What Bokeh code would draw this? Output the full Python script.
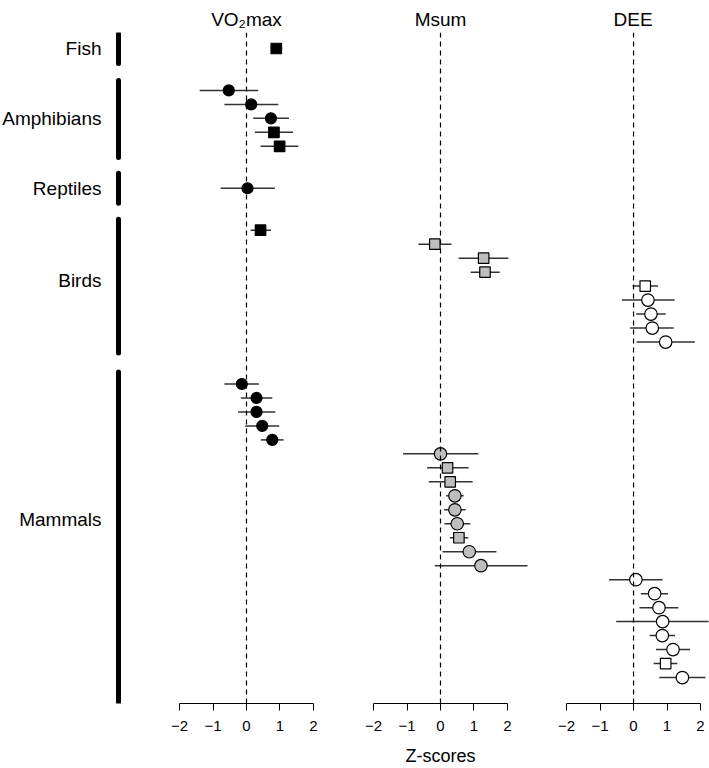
from bokeh.plotting import figure
from bokeh.layouts import row
from bokeh.models import Range1d, Span, FixedTicker, ColumnDataSource
from bokeh.embed import file_html
from bokeh.resources import INLINE
from bokeh.core.properties import value

# ---------------- data ----------------
groups = ["Fish", "Amphibians", "Reptiles", "Birds", "Mammals"]
panel_titles = ["VO\u2082max", "Msum", "DEE"]
tick_values = [-2, -1, 0, 1, 2]
tick_labels = ["\u22122", "\u22121", "0", "1", "2"]
x_label = "Z-scores"

vo2_group = ["Fish",
             "Amphibians", "Amphibians", "Amphibians", "Amphibians", "Amphibians",
             "Reptiles",
             "Birds",
             "Mammals", "Mammals", "Mammals", "Mammals", "Mammals"]
vo2_est = [0.89, -0.53, 0.14, 0.73, 0.82, 0.99, 0.03, 0.42, -0.14, 0.30, 0.30, 0.47, 0.77]
vo2_lo = [0.75, -1.40, -0.66, 0.20, 0.25, 0.42, -0.77, 0.12, -0.66, -0.17, -0.25, -0.04, 0.43]
vo2_hi = [1.07, 0.35, 0.95, 1.27, 1.39, 1.55, 0.85, 0.73, 0.37, 0.77, 0.86, 0.98, 1.11]
vo2_shape = ["square", "circle", "circle", "circle", "square", "square", "circle",
             "square", "circle", "circle", "circle", "circle", "circle"]

msum_group = ["Birds", "Birds", "Birds",
              "Mammals", "Mammals", "Mammals", "Mammals", "Mammals", "Mammals",
              "Mammals", "Mammals", "Mammals"]
msum_est = [-0.17, 1.29, 1.33, 0.00, 0.21, 0.29, 0.43, 0.43, 0.50, 0.55, 0.86, 1.21]
msum_lo = [-0.66, 0.54, 0.90, -1.12, -0.40, -0.35, 0.17, 0.11, 0.12, 0.28, 0.06, -0.17]
msum_hi = [0.33, 2.03, 1.77, 1.13, 0.84, 0.96, 0.69, 0.75, 0.89, 0.83, 1.67, 2.60]
msum_shape = ["square", "square", "square", "circle", "square", "square", "circle",
              "circle", "circle", "square", "circle", "circle"]

dee_group = ["Birds", "Birds", "Birds", "Birds", "Birds",
             "Mammals", "Mammals", "Mammals", "Mammals", "Mammals", "Mammals",
             "Mammals", "Mammals"]
dee_est = [0.35, 0.43, 0.52, 0.56, 0.96, 0.07, 0.63, 0.76, 0.87, 0.86, 1.18, 0.96, 1.46]
dee_lo = [-0.03, -0.35, 0.08, -0.10, 0.09, -0.73, 0.22, 0.18, -0.52, 0.48, 0.67, 0.60, 0.77]
dee_hi = [0.73, 1.23, 0.96, 1.20, 1.83, 0.87, 1.03, 1.34, 2.24, 1.24, 1.69, 1.31, 2.15]
dee_shape = ["square", "circle", "circle", "circle", "circle", "circle", "circle",
             "circle", "circle", "circle", "circle", "square", "circle"]

# ---------------- row assignment ----------------
panel_groups = [vo2_group, msum_group, dee_group]
panel_rows = [[None] * len(g) for g in panel_groups]
group_first, group_last = [], []
r = 1
for gi, g in enumerate(groups):
    if gi > 0:
        r += 2
    first = r
    for pi, pg in enumerate(panel_groups):
        for i, gg in enumerate(pg):
            if gg == g:
                panel_rows[pi][i] = r
                r += 1
    group_first.append(first)
    group_last.append(r - 1)
nrows = r - 1

FONT = "Liberation Sans"
H = 768
TOP, BOTTOM = 32, 64
y_range = Range1d(start=nrows + 1.857, end=-0.143)

# ---------------- label column ----------------
LW = 149
p0 = figure(width=LW, height=H, x_range=Range1d(0, LW), y_range=y_range,
            output_backend="svg", toolbar_location=None,
            x_axis_location=None, y_axis_location=None,
            min_border_left=0, min_border_right=0,
            min_border_top=TOP, min_border_bottom=BOTTOM)
p0.outline_line_color = None
p0.grid.visible = False

pad_top = [1.07, 0.71, 1.07, 0.79, 0.86]
pad_bot = [1.07, 0.79, 1.07, 0.79, 1.8]
label_shift = [0.0, 0.0, 0.0, -0.4, -0.8]
bar_src = ColumnDataSource(dict(
    x=[118] * len(groups),
    y0=[f - a for f, a in zip(group_first, pad_top)],
    y1=[l + b for l, b in zip(group_last, pad_bot)],
))
p0.segment(x0="x", y0="y0", x1="x", y1="y1", source=bar_src,
           line_color="black", line_width=5, line_cap="round")
lab_src = ColumnDataSource(dict(
    x=[101] * len(groups),
    y=[(f + l) / 2 + s for f, l, s in zip(group_first, group_last, label_shift)],
    text=groups,
))
p0.text(x="x", y="y", text="text", source=lab_src, text_align="right",
        text_baseline="middle", text_font=value(FONT), text_font_size="19px",
        text_color="black")

# ---------------- panels ----------------
panel_est = [vo2_est, msum_est, dee_est]
panel_lo = [vo2_lo, msum_lo, dee_lo]
panel_hi = [vo2_hi, msum_hi, dee_hi]
panel_shape = [vo2_shape, msum_shape, dee_shape]
fills = ["black", "#bebebe", "white"]
widths = [194, 194, 172]
xranges = [(-2.9, 2.9), (-2.9, 2.9), (-2.87, 2.27)]

figs = [p0]
for pi in range(3):
    p = figure(width=widths[pi], height=H, x_range=Range1d(*xranges[pi]),
               y_range=y_range, output_backend="svg", toolbar_location=None,
               y_axis_location=None,
               min_border_left=0, min_border_right=0,
               min_border_top=TOP, min_border_bottom=BOTTOM)
    p.outline_line_color = None
    p.grid.visible = False
    p.title.text = panel_titles[pi]
    if pi == 2:
        p.title.align = "left"
        p.title.offset = 76
    else:
        p.title.align = "center"
    p.title.text_font = FONT
    p.title.text_font_size = "19px"
    p.title.text_font_style = "normal"
    p.title.text_color = "black"
    p.title.standoff = 5

    ax = p.xaxis[0]
    ax.ticker = FixedTicker(ticks=tick_values)
    ax.major_label_overrides = {v: t for v, t in zip(tick_values, tick_labels)}
    ax.bounds = (tick_values[0], tick_values[-1])
    ax.major_tick_out = 7
    ax.major_tick_in = 0
    ax.minor_tick_line_color = None
    ax.axis_line_color = "black"
    ax.major_tick_line_color = "black"
    ax.axis_line_width = 1
    ax.major_label_text_font = FONT
    ax.major_label_text_font_size = "15px"
    ax.major_label_text_color = "black"
    ax.major_label_standoff = 10
    if pi == 1:
        ax.axis_label = x_label
        ax.axis_label_text_font = FONT
        ax.axis_label_text_font_size = "18px"
        ax.axis_label_text_font_style = "normal"
        ax.axis_label_text_color = "black"
        ax.axis_label_standoff = 12

    p.add_layout(Span(location=0, dimension="height", line_color="black",
                      line_width=1.2, line_dash="5 4"))

    shapes = panel_shape[pi]
    src = ColumnDataSource(dict(
        y=panel_rows[pi], est=panel_est[pi], lo=panel_lo[pi], hi=panel_hi[pi],
        marker=shapes,
        size=[10.5 if s == "square" else (11 if pi == 0 else 12.5) for s in shapes],
    ))
    p.segment(x0="lo", y0="y", x1="hi", y1="y", source=src,
              line_color="#333333", line_width=1.5)
    p.scatter(x="est", y="y", marker="marker", size="size", source=src,
              fill_color=fills[pi], line_color="black", line_width=1.2)
    figs.append(p)

layout = row(*figs, spacing=0)
open("out.html", "w").write(file_html(layout, INLINE, title="Z-scores"))
